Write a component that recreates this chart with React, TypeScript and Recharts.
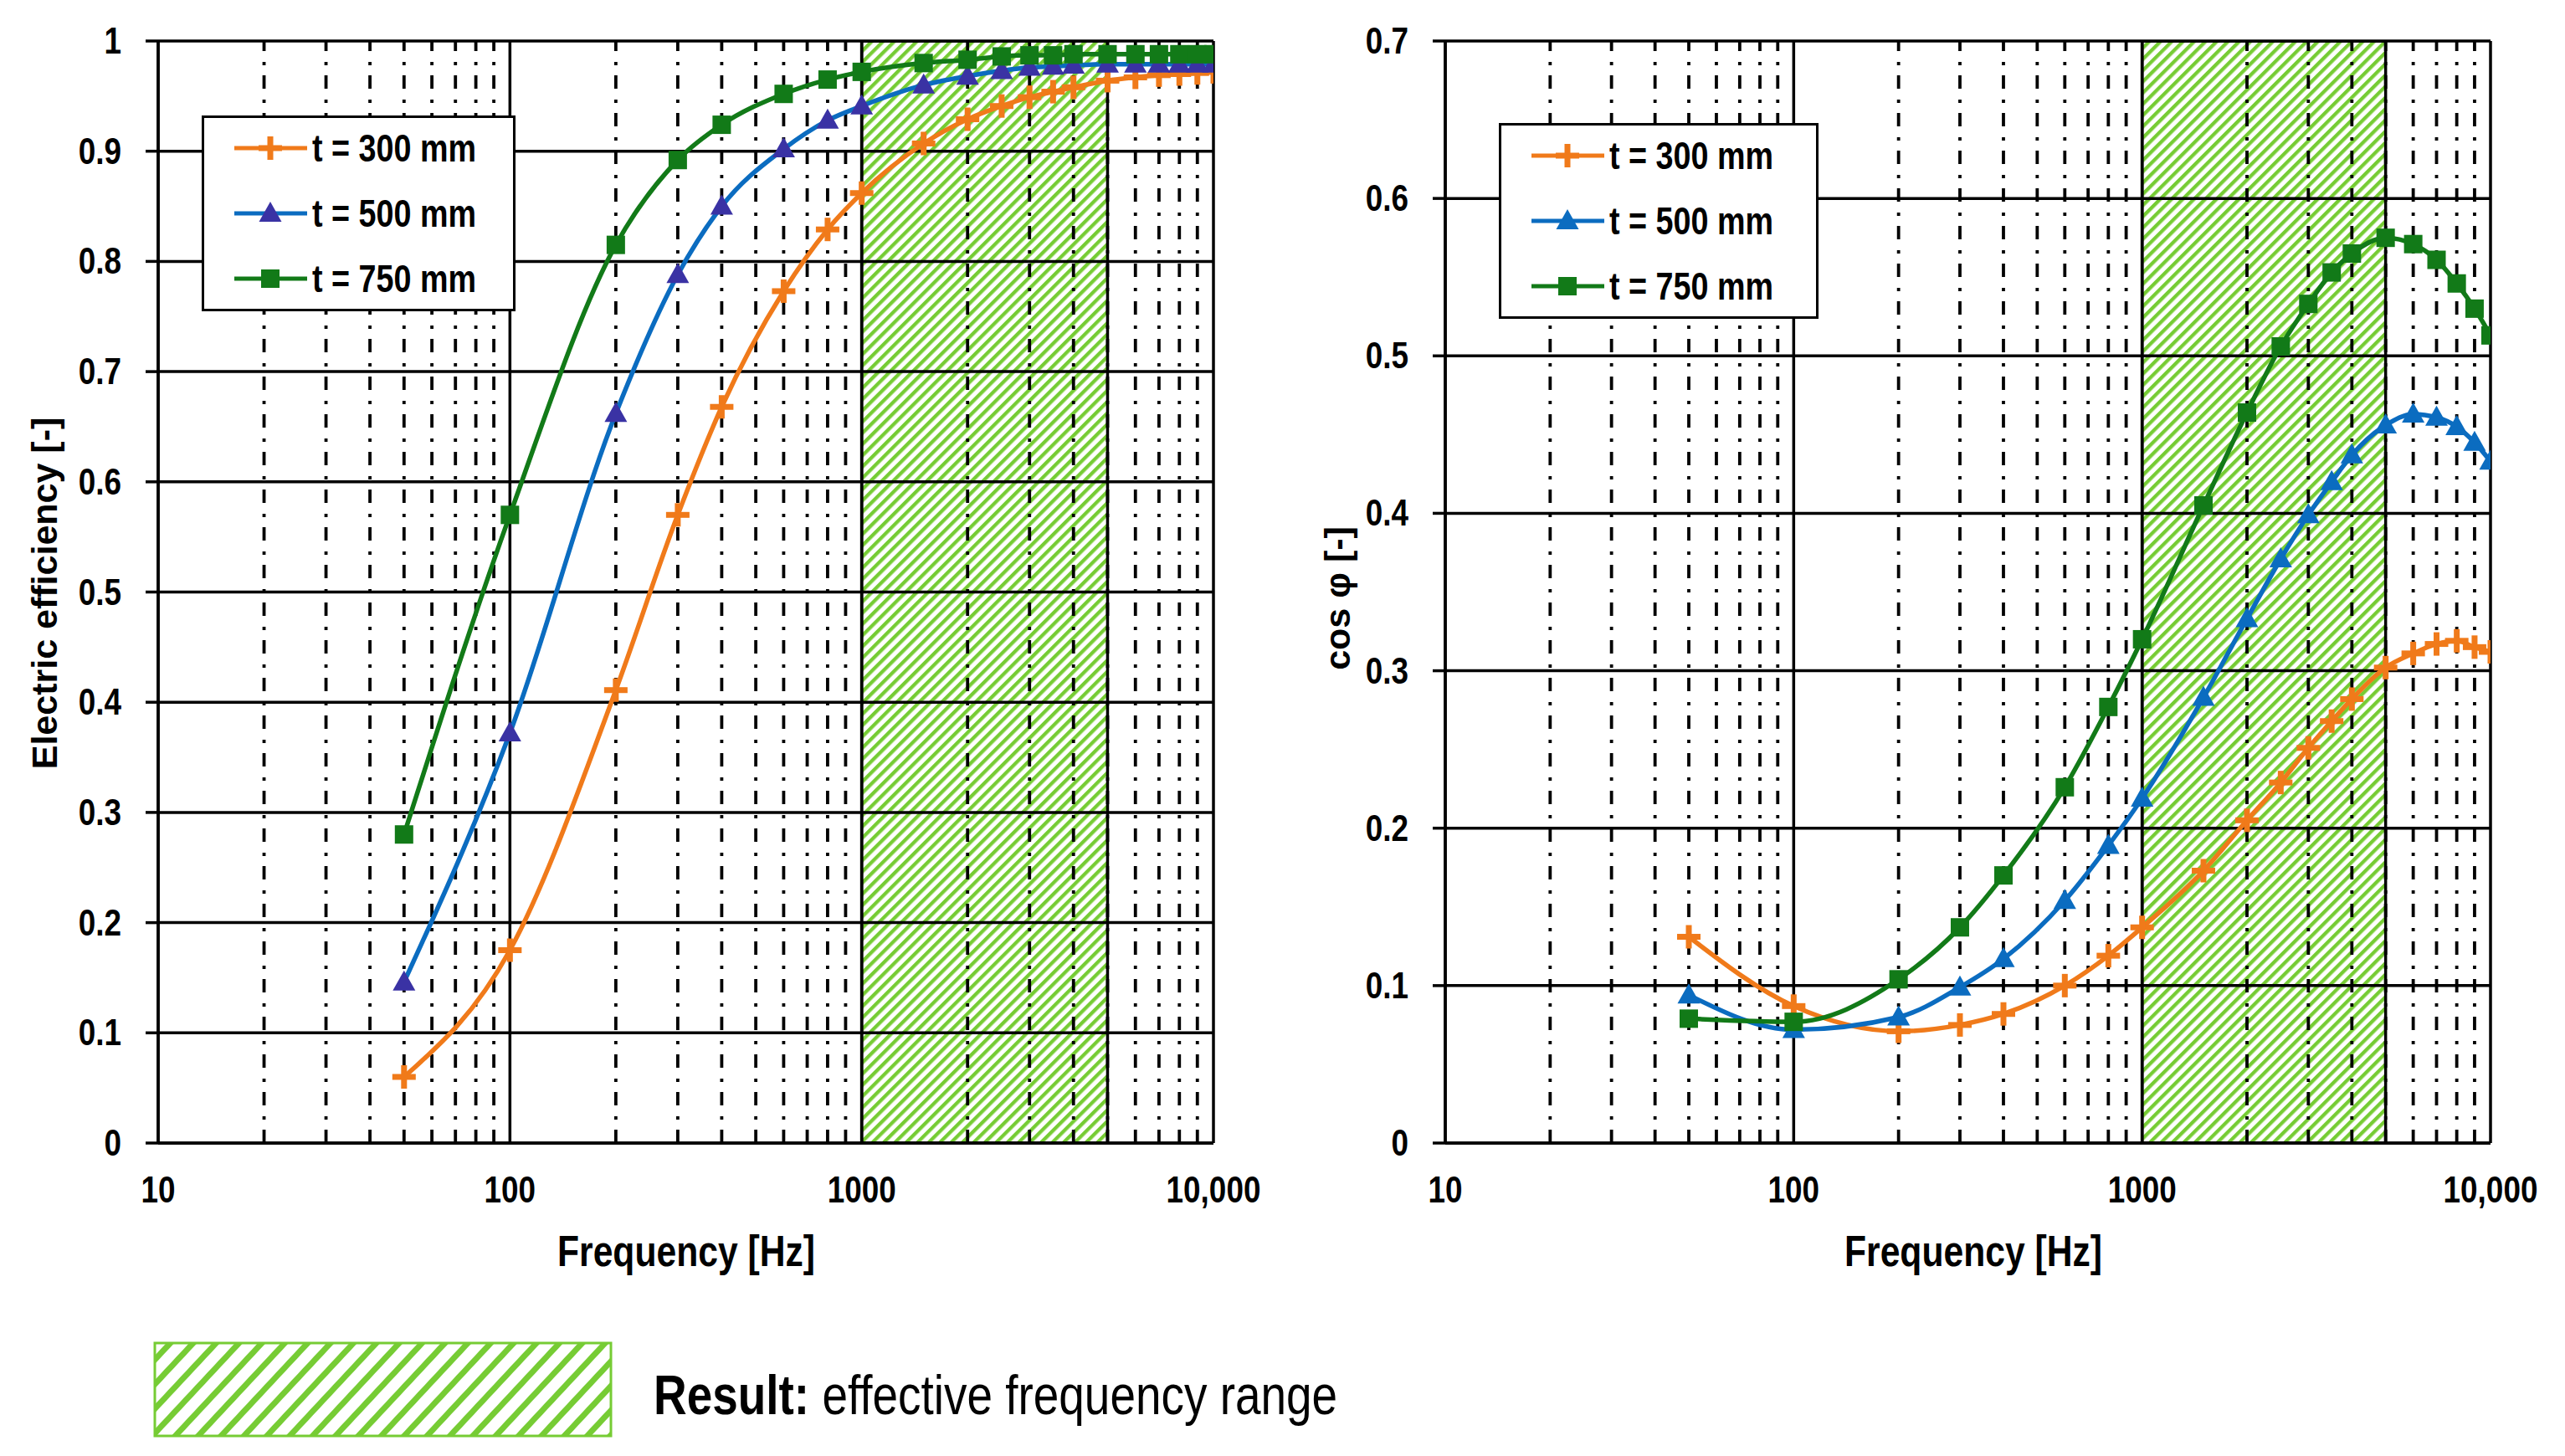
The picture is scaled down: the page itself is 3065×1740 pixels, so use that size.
import React from 'react';
import { LineChart, Line, XAxis, YAxis, ReferenceLine, ReferenceArea, Legend } from 'recharts';

// ---------- data ----------
const freqs = [50, 100, 200, 300, 400, 600, 800, 1000, 1500, 2000, 2500, 3000, 3500, 4000, 5000, 6000, 7000, 8000, 9000, 10000];

const eff300 = [0.06, 0.175, 0.411, 0.57, 0.668, 0.773, 0.829, 0.862, 0.907, 0.929, 0.941, 0.949, 0.954, 0.958, 0.964, 0.967, 0.969, 0.97, 0.971, 0.972];
const eff500 = [0.146, 0.372, 0.662, 0.788, 0.85, 0.902, 0.928, 0.941, 0.96, 0.968, 0.973, 0.976, 0.977, 0.978, 0.979, 0.979, 0.979, 0.979, 0.979, 0.979];
const eff750 = [0.28, 0.57, 0.815, 0.892, 0.924, 0.952, 0.965, 0.972, 0.98, 0.983, 0.986, 0.987, 0.987, 0.988, 0.988, 0.988, 0.988, 0.988, 0.988, 0.988];

const cos300 = [0.131, 0.087, 0.071, 0.075, 0.082, 0.1, 0.119, 0.137, 0.173, 0.205, 0.229, 0.251, 0.268, 0.282, 0.302, 0.311, 0.317, 0.319, 0.315, 0.312];
const cos500 = [0.094, 0.072, 0.08, 0.099, 0.117, 0.154, 0.189, 0.219, 0.283, 0.333, 0.371, 0.399, 0.42, 0.437, 0.456, 0.463, 0.461, 0.455, 0.445, 0.433];
const cos750 = [0.079, 0.077, 0.104, 0.137, 0.17, 0.226, 0.277, 0.32, 0.405, 0.464, 0.506, 0.533, 0.553, 0.565, 0.575, 0.571, 0.561, 0.546, 0.53, 0.513];

const seriesNames = ['t = 300 mm', 't = 500 mm', 't = 750 mm'];
const xMajorTicks = [10, 100, 1000, 10000];
const xMinor = [20, 30, 40, 50, 60, 70, 80, 90, 200, 300, 400, 500, 600, 700, 800, 900, 2000, 3000, 4000, 5000, 6000, 7000, 8000, 9000];
const effTicks = [0, 0.1, 0.2, 0.3, 0.4, 0.5, 0.6, 0.7, 0.8, 0.9, 1];
const cosTicks = [0, 0.1, 0.2, 0.3, 0.4, 0.5, 0.6, 0.7];
const bandRange = [1000, 5000];
const effLabel = 'Electric efficiency [-]';
const cosLabel = 'cos φ [-]';
const xLabel = 'Frequency [Hz]';
const bottomBold = 'Result:';
const bottomText = ' effective frequency range';

// ---------- styles ----------
const FONT = "'Liberation Sans', Arial, sans-serif";
const NX = 0.82; // horizontal condensing to mimic Arial Narrow
const ORANGE = '#F07A1A';
const BLUE = '#0B6CC0';
const PURPLE = '#3A32A4';
const GREEN = '#127A18';
const HATCH = '#76CC34';

const effData = freqs.map((f, i) => ({ f, a: eff300[i], b: eff500[i], c: eff750[i] }));
const cosData = freqs.map((f, i) => ({ f, a: cos300[i], b: cos500[i], c: cos750[i] }));

const fmtX = (v: number) => (v >= 10000 ? v.toLocaleString('en-US') : String(v));
const fmtY = (v: number) => (v === 0 ? '0' : v === 1 ? '1' : v.toFixed(1));

const NText = ({ x, y, anchor = 'start', size, bold = true, children }: any) => (
  <text
    transform={`translate(${x},${y}) scale(${NX},1)`}
    x={0}
    y={0}
    textAnchor={anchor}
    fontFamily={FONT}
    fontWeight={bold ? 'bold' : 'normal'}
    fontSize={size}
    fill="#000"
  >
    {children}
  </text>
);

const PlusShape = ({ cx, cy, color }: any) => (
  <g>
    <rect x={cx - 14} y={cy - 3.5} width={28} height={7} fill={color} />
    <rect x={cx - 3.5} y={cy - 14} width={7} height={28} fill={color} />
  </g>
);
const TriShape = ({ cx, cy, color }: any) => (
  <polygon points={`${cx},${cy - 14} ${cx + 13.5},${cy + 10} ${cx - 13.5},${cy + 10}`} fill={color} />
);
const SqShape = ({ cx, cy, color }: any) => <rect x={cx - 11} y={cy - 11} width={22} height={22} fill={color} />;

const mkDot = (kind: string, color: string) => (p: any) => {
  const { cx, cy, index } = p;
  if (cx == null || cy == null) return <g key={`e${kind}${index}`} />;
  const key = `${kind}${index}`;
  if (kind === 'plus') return <PlusShape key={key} cx={cx} cy={cy} color={color} />;
  if (kind === 'tri') return <TriShape key={key} cx={cx} cy={cy} color={color} />;
  return <SqShape key={key} cx={cx} cy={cy} color={color} />;
};

const XTick = (props: any) => {
  const { x, y, payload } = props;
  return (
    <NText x={x} y={y + 71} anchor="middle" size={45}>
      {fmtX(payload.value)}
    </NText>
  );
};
const YTick = (props: any) => {
  const { x, y, payload } = props;
  return (
    <NText x={x} y={y + 15} anchor="end" size={45}>
      {fmtY(payload.value)}
    </NText>
  );
};

const LegendBox = ({ w, h, triColor }: any) => {
  const rows = [
    { name: seriesNames[0], color: ORANGE, kind: 'plus', mk: ORANGE },
    { name: seriesNames[1], color: BLUE, kind: 'tri', mk: triColor },
    { name: seriesNames[2], color: GREEN, kind: 'sq', mk: GREEN },
  ];
  return (
    <div style={{ width: w, height: h, boxSizing: 'border-box', border: '3px solid #000', background: '#fff', position: 'relative' }}>
      <svg width={w - 6} height={h - 6} style={{ position: 'absolute', left: 0, top: 0 }}>
        {rows.map((r, i) => {
          const y = 36 + i * 78;
          return (
            <g key={r.name}>
              <line x1={36} x2={123} y1={y} y2={y} stroke={r.color} strokeWidth={5} />
              {r.kind === 'plus' && <PlusShape cx={79} cy={y} color={r.mk} />}
              {r.kind === 'tri' && <TriShape cx={79} cy={y} color={r.mk} />}
              {r.kind === 'sq' && <SqShape cx={79} cy={y} color={r.mk} />}
              <NText x={129} y={y + 16} size={46}>
                {r.name}
              </NText>
            </g>
          );
        })}
      </svg>
    </div>
  );
};

const Panel = ({ data, yMax, yTicks, triColor, width, height, margin, legendPos }: any) => (
  <LineChart width={width} height={height} data={data} margin={margin}>
    <XAxis
      dataKey="f"
      type="number"
      scale="log"
      domain={[10, 10000]}
      ticks={xMajorTicks}
      interval={0}
      height={80}
      tickSize={0}
      tickMargin={0}
      tickLine={false}
      axisLine={{ stroke: '#000', strokeWidth: 3.5 }}
      tick={<XTick />}
      allowDataOverflow
    />
    <YAxis
      type="number"
      domain={[0, yMax]}
      ticks={yTicks}
      interval={0}
      width={80}
      tickSize={15}
      tickMargin={29}
      tickLine={{ stroke: '#000', strokeWidth: 3.5 }}
      axisLine={{ stroke: '#000', strokeWidth: 3.5 }}
      tick={<YTick />}
      allowDataOverflow
    />
    <ReferenceArea
      x1={bandRange[0]}
      x2={bandRange[1]}
      y1={0}
      y2={yMax}
      fill="url(#hatchChart)"
      fillOpacity={1}
      stroke="#000"
      strokeWidth={3.5}
      ifOverflow="hidden"
    />
    {xMinor.map((v) => (
      <ReferenceLine key={`mx${v}`} x={v} stroke="#000" strokeWidth={3.8} strokeDasharray="16 12 4 13" />
    ))}
    {yTicks.map((v: number) => (
      <ReferenceLine key={`hy${v}`} y={v} stroke="#000" strokeWidth={3.5} />
    ))}
    {xMajorTicks.map((v) => (
      <ReferenceLine key={`vx${v}`} x={v} stroke="#000" strokeWidth={3.5} />
    ))}
    <Line dataKey="a" name={seriesNames[0]} type="monotone" stroke={ORANGE} strokeWidth={5.5} dot={mkDot('plus', ORANGE)} activeDot={false} isAnimationActive={false} />
    <Line dataKey="b" name={seriesNames[1]} type="monotone" stroke={BLUE} strokeWidth={5.5} dot={mkDot('tri', triColor)} activeDot={false} isAnimationActive={false} />
    <Line dataKey="c" name={seriesNames[2]} type="monotone" stroke={GREEN} strokeWidth={5.5} dot={mkDot('sq', GREEN)} activeDot={false} isAnimationActive={false} />
    <Legend
      layout="vertical"
      align="center"
      verticalAlign="middle"
      wrapperStyle={{ position: 'absolute', left: legendPos.left, top: legendPos.top, width: legendPos.w, height: legendPos.h }}
      content={() => <LegendBox w={legendPos.w} h={legendPos.h} triColor={triColor} />}
    />
  </LineChart>
);

export default function App() {
  return (
    <div style={{ position: 'absolute', left: 0, top: 0, width: 3065, height: 1740, background: '#fff' }}>
      <svg width={0} height={0} style={{ position: 'absolute' }}>
        <defs>
          <pattern id="hatchChart" patternUnits="userSpaceOnUse" width={9.5} height={9.5} patternTransform="rotate(45)">
            <rect x={0} y={0} width={4.3} height={9.5} fill={HATCH} />
          </pattern>
          <pattern id="hatchBig" patternUnits="userSpaceOnUse" width={20} height={20} patternTransform="rotate(43)">
            <rect x={0} y={0} width={7} height={20} fill={HATCH} />
          </pattern>
        </defs>
      </svg>

      <div style={{ position: 'absolute', left: 0, top: 0 }}>
        <Panel
          data={effData}
          yMax={1}
          yTicks={effTicks}
          triColor={PURPLE}
          width={1530}
          height={1560}
          margin={{ top: 49, left: 109, right: 80, bottom: 114 }}
          legendPos={{ left: 241, top: 138, w: 375, h: 234 }}
        />
      </div>
      <div style={{ position: 'absolute', left: 1540, top: 0 }}>
        <Panel
          data={cosData}
          yMax={0.7}
          yTicks={cosTicks}
          triColor={BLUE}
          width={1525}
          height={1560}
          margin={{ top: 49, left: 107, right: 89, bottom: 114 }}
          legendPos={{ left: 251, top: 147, w: 382, h: 234 }}
        />
      </div>

      <svg width={3065} height={1740} style={{ position: 'absolute', left: 0, top: 0, pointerEvents: 'none' }}>
        <text transform="translate(53,709) rotate(-90)" textAnchor="middle" dominantBaseline="central" fontFamily={FONT} fontWeight="bold" fontSize={43} fill="#000">
          {effLabel}
        </text>
        <text transform="translate(1598,715) rotate(-90)" textAnchor="middle" dominantBaseline="central" fontFamily={FONT} fontWeight="bold" fontSize={43} fill="#000">
          {cosLabel}
        </text>
        <NText x={820} y={1513} anchor="middle" size={52}>
          {xLabel}
        </NText>
        <NText x={2358} y={1513} anchor="middle" size={52}>
          {xLabel}
        </NText>
        <rect x={185} y={1605} width={545} height={111} fill="url(#hatchBig)" stroke={HATCH} strokeWidth={3} />
        <text transform={`translate(781,1690) scale(${NX},1)`} x={0} y={0} fontFamily={FONT} fontSize={67} fill="#000">
          <tspan fontWeight="bold">{bottomBold}</tspan>
          <tspan>{bottomText}</tspan>
        </text>
      </svg>
    </div>
  );
}
